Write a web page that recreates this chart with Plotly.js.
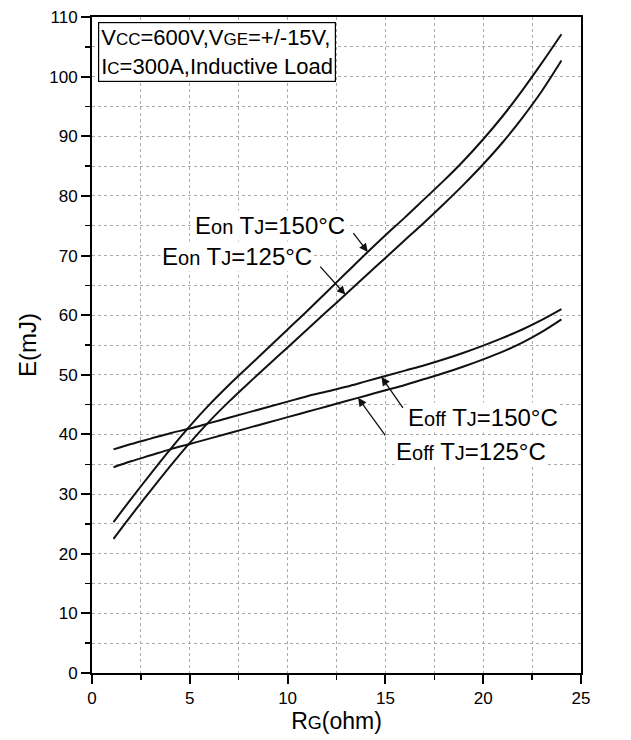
<!DOCTYPE html>
<html>
<head>
<meta charset="utf-8">
<script src="https://cdn.plot.ly/plotly-3.0.1.min.js"></script>
<style>html,body{margin:0;padding:0;background:#fff;}#chart{width:631px;height:740px;}</style>
</head>
<body>
<div id="chart"></div>
<script>
// R_G (ohm) sample points
const rg = [1.1, 2, 3, 4, 5, 6, 7, 8, 9, 10, 11, 12, 13, 14, 15, 16, 17, 18, 19, 20, 21, 22, 23, 24];
// Energies (mJ)
const eon150  = [25.3, 29.2, 33.4, 37.5, 41.4, 45.0, 48.3, 51.4, 54.5, 57.6, 60.7, 63.9, 67.1, 70.3, 73.4, 76.4, 79.5, 82.6, 85.9, 89.5, 93.4, 97.7, 102.3, 107.1];
const eon125  = [22.5, 26.4, 30.6, 34.7, 38.6, 42.2, 45.5, 48.6, 51.6, 54.6, 57.6, 60.6, 63.6, 66.6, 69.6, 72.6, 75.6, 78.7, 81.9, 85.3, 89.0, 93.1, 97.6, 102.7];
const eoff150 = [37.5, 38.4, 39.3, 40.2, 41.0, 41.9, 42.8, 43.7, 44.6, 45.5, 46.4, 47.2, 48.0, 48.9, 49.8, 50.7, 51.6, 52.6, 53.7, 54.9, 56.2, 57.6, 59.2, 61.0];
const eoff125 = [34.5, 35.5, 36.5, 37.5, 38.4, 39.3, 40.2, 41.1, 42.0, 42.9, 43.8, 44.7, 45.6, 46.5, 47.4, 48.3, 49.3, 50.3, 51.4, 52.6, 53.9, 55.4, 57.2, 59.3];
const xTickVals = [0, 5, 10, 15, 20, 25];
const yTickVals = [0, 10, 20, 30, 40, 50, 60, 70, 80, 90, 100, 110];

function at(xs, ys, x) {
  for (let i = 0; i < xs.length - 1; i++) {
    if (x >= xs[i] && x <= xs[i + 1]) {
      const t = (x - xs[i]) / (xs[i + 1] - xs[i]);
      return ys[i] + t * (ys[i + 1] - ys[i]);
    }
  }
  return ys[ys.length - 1];
}

const lineStyle = {color: '#111', width: 2, shape: 'spline', smoothing: 1};
const traces = [eon150, eon125, eoff150, eoff125].map(ys => ({
  x: rg, y: ys, mode: 'lines', line: lineStyle, hoverinfo: 'skip', showlegend: false
}));

const S = (t, s) => '<span style="font-size:' + (s || 20) + 'px">' + t + '</span>';
const F = 'Liberation Sans, Arial, sans-serif';

const ann = [];
function label(text, cx, cy) {
  ann.push({
    x: cx, y: cy, xref: 'x', yref: 'y', showarrow: false, text: text,
    font: {family: F, size: 24, color: '#000'}, bgcolor: '#fff', borderpad: 1
  });
}
function arrow(tipX, tipY, tailX, tailY) {
  ann.push({
    x: tipX, y: tipY, xref: 'x', yref: 'y', ax: tailX, ay: tailY, axref: 'x', ayref: 'y',
    text: '', showarrow: true, arrowhead: 2, arrowsize: 1.3, arrowwidth: 1.3, arrowcolor: '#111', standoff: 0
  });
}
label('E' + S('on') + ' T' + S('J') + '=150°C', 9.1, 75.1);
label('E' + S('on') + ' T' + S('J') + '=125°C', 7.4, 69.9);
label('E' + S('off') + ' T' + S('J') + '=150°C', 20.0, 42.8);
label('E' + S('off') + ' T' + S('J') + '=125°C', 19.4, 37.2);

const t1 = 14.1, t2 = 12.95, t3 = 14.8, t4 = 13.6;
arrow(t1, at(rg, eon150, t1), 13.3, 74.0);
arrow(t2, at(rg, eon125, t2), 11.6, 68.4);
arrow(t3, at(rg, eoff150, t3), 15.95, 44.2);
arrow(t4, at(rg, eoff125, t4), 15.05, 39.6);

ann.push({
  x: 0.012, y: 0.993, xref: 'paper', yref: 'paper', xanchor: 'left', yanchor: 'top',
  showarrow: false, align: 'left',
  text: 'V' + S('CC', 17) + '=600V,V' + S('GE', 17) + '=+/-15V,<br>I' + S('C', 17) + '=300A,Inductive Load',
  font: {family: F, size: 22, color: '#000'}, bgcolor: '#fff', bordercolor: '#000', borderwidth: 1.2, borderpad: 2
});

const grid = {showgrid: true, gridcolor: '#aaa', griddash: 'dot', gridwidth: 1};
const layout = {
  width: 631, height: 740,
  margin: {l: 92, r: 50, t: 17, b: 67},
  paper_bgcolor: '#fff', plot_bgcolor: '#fff',
  font: {family: F, color: '#000'},
  xaxis: Object.assign({
    range: [0, 25], tickvals: xTickVals, ticktext: xTickVals.map(String),
    ticks: 'outside', ticklen: 9, tickwidth: 2, tickcolor: '#000',
    showline: true, linecolor: '#000', linewidth: 2, mirror: true,
    zeroline: false,
    minor: Object.assign({dtick: 2.5, ticks: 'outside', ticklen: 5, tickwidth: 1.5, tickcolor: '#000'}, grid),
    tickfont: {family: F, size: 17, color: '#000'},
    title: {text: 'R' + S('G', 18) + '(ohm)', font: {family: F, size: 23, color: '#000'}, standoff: 2}
  }, grid),
  yaxis: Object.assign({
    range: [0, 110], tickvals: yTickVals, ticktext: yTickVals.map(String),
    ticks: 'outside', ticklen: 9, tickwidth: 2, tickcolor: '#000',
    showline: true, linecolor: '#000', linewidth: 2, mirror: true,
    zeroline: false,
    minor: Object.assign({dtick: 5, ticks: 'outside', ticklen: 5, tickwidth: 1.5, tickcolor: '#000'}, grid),
    tickfont: {family: F, size: 17, color: '#000'},
    title: {text: 'E(mJ)', font: {family: F, size: 24, color: '#000'}, standoff: 6}
  }, grid),
  annotations: ann,
  showlegend: false
};

Plotly.newPlot('chart', traces, layout, {staticPlot: true, displayModeBar: false});
</script>
</body>
</html>
